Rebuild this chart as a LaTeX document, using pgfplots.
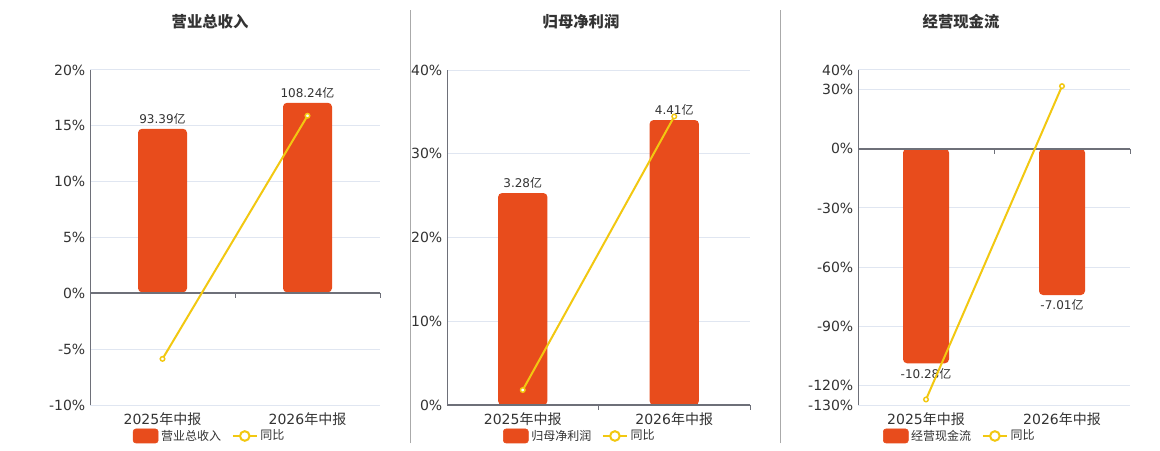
\documentclass[border=0pt]{standalone}
\usepackage{pgfplots}
\pgfplotsset{compat=1.18}
\usepackage{fontspec}
\setmainfont{DejaVu Sans}
\newfontfamily\cjk{Noto Sans CJK SC}
\definecolor{barc}{HTML}{E84C1C}
\definecolor{linec}{HTML}{F2C811}
\definecolor{gridc}{HTML}{E0E6F1}
\definecolor{axisc}{HTML}{6E7079}
\definecolor{txt}{HTML}{333333}
\definecolor{sepc}{HTML}{AAAAAA}
\pgfplotsset{
  base/.style={scale only axis, anchor=south west, height=251.25pt, xmin=-0.5, xmax=1.5,
    /pgf/number format/assume math mode=true},
  pctaxis/.style={base,
    axis x line*=bottom, axis y line*=left,
    x axis line style={draw=none},
    y axis line style={draw=axisc, line width=0.75pt},
    ymajorgrids, grid style={gridc, line width=0.75pt},
    xtick={0,1}, xticklabels={2025{\cjk 年中报},2026{\cjk 年中报}},
    major tick length=0pt,
    ticklabel style={font=\fontsize{10.5}{12}\selectfont, text=txt},
    xticklabel style={yshift=-2.5pt},
    yticklabel={\pgfmathprintnumber{\tick}\%},
    legend style={draw=none, fill=none, anchor=west, inner sep=0pt, outer sep=0pt,
      legend columns=-1, font=\fontsize{9}{11}\selectfont\cjk, text=txt,
      /tikz/every even column/.append style={column sep=6pt}},
  },
  barax/.style={base, hide axis, clip=false},
  lineax/.style={base, hide axis, clip=false},
  barplot/.style={ybar, fill=barc, draw=none, rounded corners=3pt, bar shift=0pt,
    point meta=y, nodes near coords={\pgfmathprintnumber[fixed,precision=2,fixed zerofill]{\pgfplotspointmeta}{\cjk 亿}},
    nodes near coords align=vertical,
    every node near coord/.append style={font=\fontsize{9}{11}\selectfont, text=txt}},
  lineplot/.style={linec, line width=1.5pt, mark=*, mark size=1.7pt,
    mark options={fill=white, draw=linec, line width=1.1pt}},
  barleg/.style={legend image code/.code={\fill[barc, rounded corners=2pt] (0pt,-5.25pt) rectangle (18.75pt,5.25pt);}},
  lineleg/.style={legend image code/.code={\draw[linec, line width=1.5pt] (0pt,0pt) -- (18pt,0pt);
    \draw[linec, fill=white, line width=1.5pt] (9pt,0pt) circle (3.6pt);}},
}
\newcommand\zeroline{%
\draw[axisc, line width=1.4pt] (axis cs:-0.5,0) -- (axis cs:1.5,0);
\draw[axisc, line width=0.75pt] (axis cs:0.5,0) -- ([yshift=-3.75pt]axis cs:0.5,0);
\draw[axisc, line width=0.75pt] (axis cs:1.5,0) -- ([yshift=-3.75pt]axis cs:1.5,0);}
\begin{document}
\begin{tikzpicture}
\fill[white] (0,0) rectangle (870pt,337.5pt);
% separators
\draw[sepc, line width=0.75pt] (410.5*0.75pt, 7*0.75pt) -- (410.5*0.75pt, 440*0.75pt);
\draw[sepc, line width=0.75pt] (780.5*0.75pt, 7*0.75pt) -- (780.5*0.75pt, 440*0.75pt);
% titles
\node[font=\cjk\bfseries\fontsize{11.5}{13}\selectfont, text=txt] at (210*0.75pt, 428*0.75pt) {营业总收入};
\node[font=\cjk\bfseries\fontsize{11.5}{13}\selectfont, text=txt] at (581*0.75pt, 428*0.75pt) {归母净利润};
\node[font=\cjk\bfseries\fontsize{11.5}{13}\selectfont, text=txt] at (961*0.75pt, 428*0.75pt) {经营现金流};

% ===== Panel 1 =====
\begin{axis}[pctaxis, at={(90*0.75pt,45*0.75pt)}, width=217.5pt, ymin=-10, ymax=20, ytick={-10,-5,0,5,10,15,20},
  legend style={at={(0.148,-0.0925)}}]
\addlegendimage{barleg}
\addlegendimage{lineleg}
\legend{营业总收入,同比}
\end{axis}
\begin{axis}[barax, at={(90*0.75pt,45*0.75pt)}, width=217.5pt, ymin=-64.4, ymax=127.0]
\addplot[barplot, bar width=36.75pt] coordinates {(0,93.39) (1,108.24)};
\end{axis}
\begin{axis}[lineax, at={(90*0.75pt,45*0.75pt)}, width=217.5pt, ymin=-10, ymax=20]
\zeroline
\addplot[lineplot] coordinates {(0,-5.87) (1,15.90)};
\end{axis}

% ===== Panel 2 =====
\begin{axis}[pctaxis, at={(447*0.75pt,45*0.75pt)}, width=227.25pt, ymin=0, ymax=40, ytick={0,10,20,30,40},
  legend style={at={(0.185,-0.0925)}}]
\addlegendimage{barleg}
\addlegendimage{lineleg}
\legend{归母净利润,同比}
\end{axis}
\begin{axis}[barax, at={(447*0.75pt,45*0.75pt)}, width=227.25pt, ymin=0, ymax=5.184]
\addplot[barplot, bar width=37pt] coordinates {(0,3.28) (1,4.41)};
\end{axis}
\begin{axis}[lineax, at={(447*0.75pt,45*0.75pt)}, width=227.25pt, ymin=0, ymax=40]
\zeroline
\addplot[lineplot] coordinates {(0,1.79) (1,34.45)};
\end{axis}

% ===== Panel 3 =====
\begin{axis}[pctaxis, at={(858*0.75pt,45*0.75pt)}, width=204pt, ymin=-130, ymax=40, ytick={-130,-120,-90,-60,-30,0,30,40},
  legend style={at={(0.092,-0.0925)}}]
\addlegendimage{barleg}
\addlegendimage{lineleg}
\legend{经营现金流,同比}
\end{axis}
\begin{axis}[barax, at={(858*0.75pt,45*0.75pt)}, width=204pt, ymin=-12.28, ymax=3.77]
\addplot[barplot, bar width=34.5pt] coordinates {(0,-10.28) (1,-7.01)};
\end{axis}
\begin{axis}[lineax, at={(858*0.75pt,45*0.75pt)}, width=204pt, ymin=-130, ymax=40]
\zeroline
\addplot[lineplot] coordinates {(0,-127.2) (1,31.81)};
\end{axis}
\end{tikzpicture}
\end{document}
